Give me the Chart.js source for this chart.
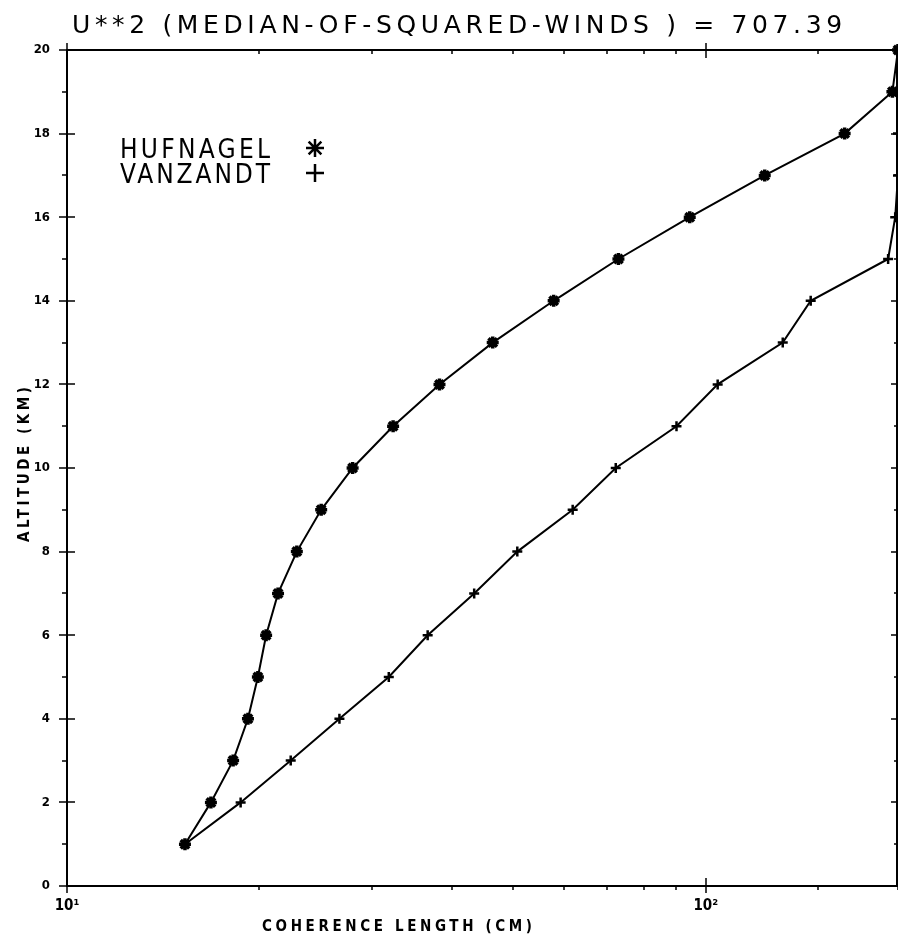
<!DOCTYPE html>
<html>
<head>
<meta charset="utf-8">
<script src="https://cdn.jsdelivr.net/npm/chart.js@4.4.1/dist/chart.umd.min.js"></script>
<style>
  html, body { margin: 0; padding: 0; background: #fff; }
  canvas { display: block; }
</style>
</head>
<body>
<canvas id="coherenceChart" width="898" height="936"></canvas>
<script>
// altitude levels (km) and coherence lengths (cm)
const altitudeKm = [1, 2, 3, 4, 5, 6, 7, 8, 9, 10, 11, 12, 13, 14, 15, 16, 17, 18, 19, 20];
const hufnagelCm = [15.3, 16.8, 18.2, 19.2, 19.9, 20.5, 21.4, 22.9, 25.0, 28.0, 32.4, 38.3, 46.4, 57.8, 73.0, 94.4, 123.7, 165, 196, 200];
const vanzandtCm = [15.3, 18.7, 22.4, 26.7, 31.9, 36.7, 43.4, 50.7, 61.9, 72.3, 90.0, 104.4, 132, 146, 193, 198, 200, 200, 200, 200];
const xTickLabels = { 10: '10\u00B9', 100: '10\u00B2' };
const chartTitle = 'U**2 (MEDIAN-OF-SQUARED-WINDS ) = 707.39';
const xTitle = 'COHERENCE LENGTH (CM)';
const yTitle = 'ALTITUDE (KM)';

function toPoints(xs) {
    return xs.map((x, i) => ({ x: x, y: altitudeKm[i] }));
}

// draw text stretched to a given width, like the old plotter lettering
function spacedText(ctx, text, x, y, width) {
    ctx.letterSpacing = '0px';
    const natural = ctx.measureText(text).width;
    const gap = (width - natural) / (text.length - 1);
    ctx.letterSpacing = gap.toFixed(2) + 'px';
    ctx.fillText(text, x, y);
    ctx.letterSpacing = '0px';
}

const frameAndTicks = {
    id: 'frameAndTicks',
    afterDraw(chart) {
        const ctx = chart.ctx;
        const { left, right, top, bottom } = chart.chartArea;
        const xs = chart.scales.x;
        const ys = chart.scales.y;
        ctx.save();
        ctx.strokeStyle = '#000';
        ctx.lineWidth = 2;
        ctx.beginPath();
        ctx.moveTo(left, top); ctx.lineTo(left, bottom);
        ctx.moveTo(left - 1, bottom); ctx.lineTo(right, bottom);
        ctx.moveTo(left - 1, top); ctx.lineTo(right, top);
        ctx.moveTo(right - 1, top); ctx.lineTo(right - 1, bottom);
        ctx.stroke();

        ctx.lineWidth = 1.5;
        ctx.beginPath();
        xs.ticks.forEach(t => {
            const px = Math.round(xs.getPixelForValue(t.value));
            const major = Number.isInteger(Math.log10(t.value));
            if (major) {
                ctx.moveTo(px, bottom - 8); ctx.lineTo(px, bottom + 7);
                ctx.moveTo(px, top - 7); ctx.lineTo(px, top + 8);
            } else {
                ctx.moveTo(px, bottom); ctx.lineTo(px, bottom + 4);
                ctx.moveTo(px, top); ctx.lineTo(px, top + 4);
            }
        });
        ys.ticks.forEach(t => {
            const py = Math.round(ys.getPixelForValue(t.value));
            if (t.value % 2 === 0) {
                ctx.moveTo(left - 8, py); ctx.lineTo(left + 8, py);
                ctx.moveTo(right - 7, py); ctx.lineTo(right, py);
            } else {
                ctx.moveTo(left - 5, py); ctx.lineTo(left, py);
                ctx.moveTo(right - 4, py); ctx.lineTo(right, py);
            }
        });
        ctx.stroke();
        ctx.restore();
    }
};

const plotterText = {
    id: 'plotterText',
    afterDraw(chart) {
        const ctx = chart.ctx;
        ctx.save();
        ctx.fillStyle = '#000';
        ctx.strokeStyle = '#000';
        ctx.textAlign = 'left';
        ctx.textBaseline = 'alphabetic';

        // title
        ctx.font = '25px "DejaVu Sans"';
        spacedText(ctx, chartTitle, 72, 33, 770);

        // legend: label first, then the marker
        ctx.font = '26px "DejaVu Sans Condensed", "DejaVu Sans"';
        chart.data.datasets.forEach((ds, i) => {
            const base = 158 + 25 * i;
            spacedText(ctx, ds.label, 120, base, 150);
            ctx.lineWidth = 2.5;
            Chart.helpers.drawPoint(ctx, {
                pointStyle: ds.pointStyle,
                rotation: 0,
                radius: 9,
                borderWidth: 2.5
            }, 315, base - 10);
        });

        // axis titles
        ctx.font = 'bold 15px "DejaVu Sans Condensed", "DejaVu Sans"';
        spacedText(ctx, xTitle, 262, 931, 270);

        ctx.translate(29, 465);
        ctx.rotate(-Math.PI / 2);
        spacedText(ctx, yTitle, -77, 0, 155);
        ctx.restore();
    }
};

new Chart(document.getElementById('coherenceChart'), {
    type: 'line',
    data: {
        datasets: [{
            label: 'HUFNAGEL',
            data: toPoints(hufnagelCm),
            borderColor: '#000',
            backgroundColor: '#000',
            borderWidth: 2,
            pointStyle: 'star',
            pointRadius: 6,
            pointBorderWidth: 3.5,
            tension: 0,
            clip: false
        }, {
            label: 'VANZANDT',
            data: toPoints(vanzandtCm),
            borderColor: '#000',
            backgroundColor: '#000',
            borderWidth: 2,
            pointStyle: 'cross',
            pointRadius: 5,
            pointBorderWidth: 2.5,
            tension: 0,
            clip: false
        }]
    },
    options: {
        responsive: false,
        animation: false,
        devicePixelRatio: 1,
        layout: { autoPadding: false, padding: { top: 50, right: 0, bottom: 0, left: 0 } },
        plugins: {
            legend: { display: false },
            title: { display: false },
            tooltip: { enabled: false }
        },
        scales: {
            x: {
                type: 'logarithmic',
                min: 10,
                max: 200,
                grid: { display: false },
                border: { display: false },
                afterFit: s => { s.height = 50; s.paddingLeft = 0; s.paddingRight = 0; },
                ticks: {
                    autoSkip: false,
                    maxRotation: 0,
                    padding: 3,
                    color: '#000',
                    font: { family: '"DejaVu Sans Condensed", "DejaVu Sans"', size: 15, weight: 'bold' },
                    callback: v => xTickLabels[v] || ''
                }
            },
            y: {
                type: 'linear',
                min: 0,
                max: 20,
                grid: { display: false },
                border: { display: false },
                afterFit: s => { s.width = 67; s.paddingTop = 0; s.paddingBottom = 0; },
                ticks: {
                    stepSize: 1,
                    autoSkip: false,
                    padding: 9,
                    color: '#000',
                    font: { family: '"DejaVu Sans Condensed", "DejaVu Sans"', size: 13, weight: 'bold' },
                    callback: v => (v % 2 === 0 ? v : '')
                }
            }
        }
    },
    plugins: [frameAndTicks, plotterText]
});
</script>
</body>
</html>
